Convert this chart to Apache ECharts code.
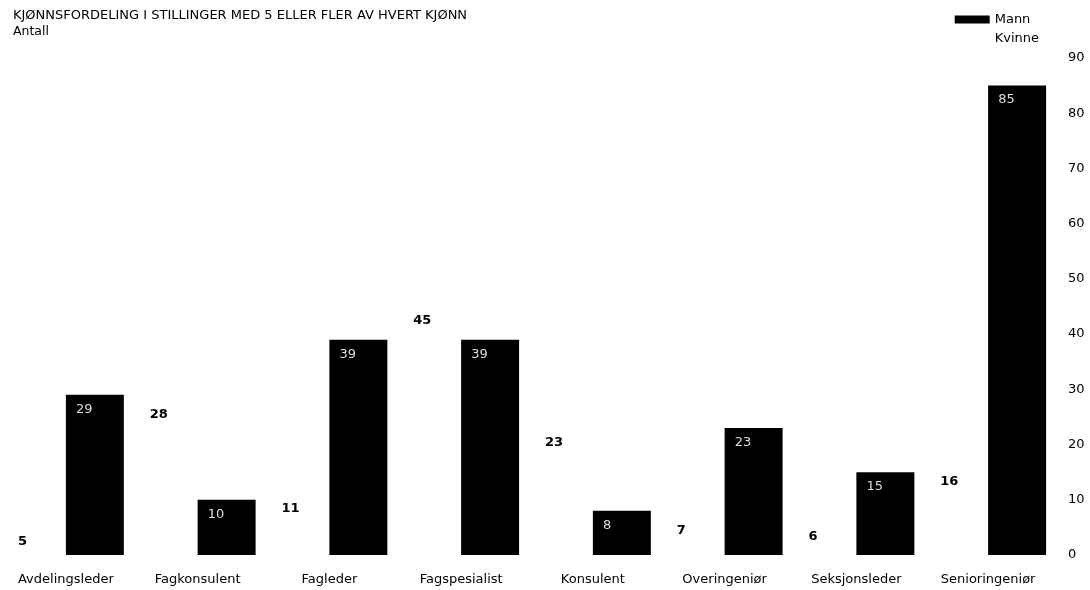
<!DOCTYPE html>
<html><head><meta charset="utf-8">
<script src="https://cdn.jsdelivr.net/npm/echarts@6/dist/echarts.min.js"></script>
<style>html,body{margin:0;padding:0;background:#fff}#c{width:1090px;height:590px}</style>
</head><body><div id="c"></div>
<script>
const categories = ["Avdelingsleder","Fagkonsulent","Fagleder","Fagspesialist","Konsulent","Overingeniør","Seksjonsleder","Senioringeniør"];
const kvinne = [5, 28, 11, 45, 23, 7, 6, 16];
const mann = [29, 10, 39, 39, 8, 23, 15, 85];
const yTicks = [0, 10, 20, 30, 40, 50, 60, 70, 80, 90];
const FONT = "'DejaVu Sans', 'Liberation Sans', sans-serif";
const chart = echarts.init(document.getElementById('c'), null, {renderer: 'canvas'});
chart.setOption({
  animation: false,
  backgroundColor: '#fff',
  textStyle: {fontFamily: FONT},
  title: {
    text: 'KJØNNSFORDELING I STILLINGER MED 5 ELLER FLER AV HVERT KJØNN',
    subtext: 'Antall',
    left: 8, top: 4, itemGap: 3,
    textStyle: {fontFamily: FONT, fontSize: 13, fontWeight: 'normal', color: '#000'},
    subtextStyle: {fontFamily: FONT, fontSize: 12.5, color: '#000'}
  },
  legend: {
    orient: 'vertical', right: 46, top: 8, itemWidth: 35, itemHeight: 8, itemGap: 6,
    icon: 'rect',
    data: [{name: 'Mann'}, {name: 'Kvinne', itemStyle: {color: '#fff'}}],
    textStyle: {fontFamily: FONT, fontSize: 13, color: '#000'}
  },
  grid: {left: 0, right: 36, top: 58, bottom: 35, containLabel: false},
  xAxis: {
    type: 'category', data: categories,
    axisLine: {show: false}, axisTick: {show: false},
    axisLabel: {color: '#000', fontSize: 13, fontFamily: FONT, margin: 18}
  },
  yAxis: {
    type: 'value', position: 'right', min: 0, max: 90, interval: 10,
    splitLine: {show: false}, axisLine: {show: false}, axisTick: {show: false},
    axisLabel: {color: '#000', fontSize: 13, fontFamily: FONT, margin: 14, align: 'left',
      formatter: v => yTicks.includes(v) ? String(v) : ''}
  },
  series: [
    {
      name: 'Kvinne', type: 'bar', data: kvinne, barGap: '0%', barCategoryGap: '12%',
      itemStyle: {color: '#fff'},
      label: {show: true, position: 'insideTopLeft', distance: 8, offset: [2, 0],
        color: '#000', fontWeight: 'bold', fontSize: 13, fontFamily: FONT}
    },
    {
      name: 'Mann', type: 'bar', data: mann, barGap: '0%', barCategoryGap: '12%',
      itemStyle: {color: '#000'},
      label: {show: true, position: 'insideTopLeft', distance: 8, offset: [2, 0],
        color: '#ddd', fontSize: 13, fontFamily: FONT}
    }
  ]
});
</script></body></html>
